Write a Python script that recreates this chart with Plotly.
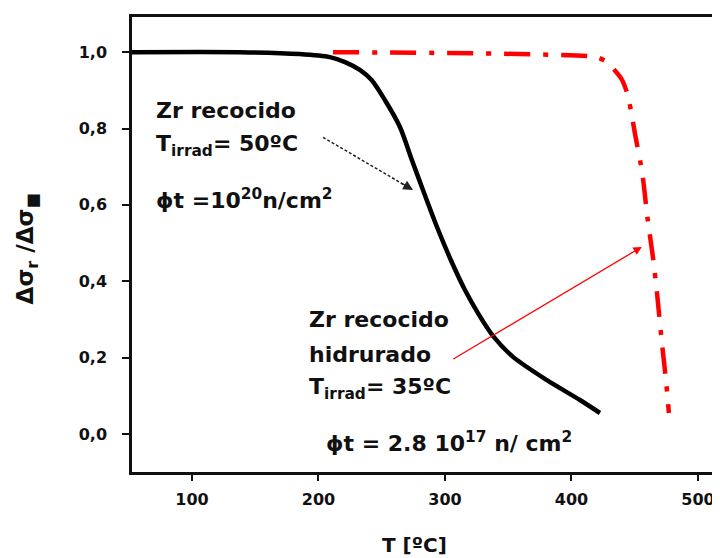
import plotly.graph_objects as go

# Black curve: Zr recocido, T_irrad = 50ºC
t_black = [52.6, 138, 185, 209, 221, 233, 242, 252.6, 264.4, 273.9, 282.6, 293.7,
           304.7, 315.8, 326.9, 337.9, 353.8, 380.6, 406.7, 422.5]
y_black = [1.0, 1.0, 0.995, 0.987, 0.974, 0.953, 0.927, 0.874, 0.804, 0.717, 0.639, 0.542,
           0.455, 0.377, 0.312, 0.257, 0.202, 0.141, 0.089, 0.055]

# Red curve: Zr recocido hidrurado, T_irrad = 35ºC
t_red = [211.5, 420, 428, 434, 440, 444, 447, 450, 456, 460, 464.4, 467.6, 471.5, 474.7, 477]
y_red = [1.0, 0.987, 0.974, 0.953, 0.927, 0.893, 0.848, 0.79, 0.683, 0.568, 0.463, 0.369,
         0.238, 0.141, 0.055]

# arrow tails / heads (data units)
arrow_black = dict(tail=(203.6, 0.777), head=(274.7, 0.639))
arrow_red = dict(tail=(305.5, 0.194), head=(455.6, 0.490))

x_ticks = [100, 200, 300, 400, 500]
y_ticks = [0.0, 0.2, 0.4, 0.6, 0.8, 1.0]

FONT = "DejaVu Sans"
TXT = dict(family=FONT, size=22, color="#111111", weight="bold")

fig = go.Figure()
fig.add_trace(go.Scatter(x=t_black, y=y_black, mode="lines",
                         line=dict(color="black", width=4.5, shape="spline", smoothing=0.8),
                         showlegend=False))
fig.add_trace(go.Scatter(x=t_red, y=y_red, mode="lines",
                         line=dict(color="#ff0000", width=4.5, dash="26px,13px,5px,13px",
                                   shape="spline", smoothing=0.5),
                         showlegend=False))
# black arrow shaft (dotted)
fig.add_trace(go.Scatter(x=[arrow_black["tail"][0], arrow_black["head"][0]],
                         y=[arrow_black["tail"][1], arrow_black["head"][1]],
                         mode="lines", line=dict(color="#222222", width=1.5, dash="3px,2px"),
                         showlegend=False))

ann = []
def txt(x, y, s):
    ann.append(dict(x=x, y=y, xref="x", yref="y", text=s, showarrow=False,
                    xanchor="left", yanchor="middle", font=TXT))

txt(70.0, 0.848, "Zr recocido")
txt(70.0, 0.755, "T<sub>irrad</sub>= 50ºC")
txt(70.0, 0.616, "ɸt =10<sup>20</sup>n/cm<sup>2</sup>")
txt(191.0, 0.301, "Zr recocido")
txt(191.0, 0.209, "hidrurado")
txt(191.0, 0.118, "T<sub>irrad</sub>= 35ºC")
txt(204.0, -0.020, "ɸt = 2.8 10<sup>17</sup> n/ cm<sup>2</sup>")

# arrowheads
hx, hy = arrow_black["head"]
tx, ty = arrow_black["tail"]
ann.append(dict(x=hx, y=hy, ax=hx - (hx - tx) * 0.15, ay=hy - (hy - ty) * 0.15,
                xref="x", yref="y", axref="x", ayref="y", showarrow=True,
                arrowhead=2, arrowsize=1.3, arrowwidth=1.5, arrowcolor="#222222", text=""))
hx, hy = arrow_red["head"]
tx, ty = arrow_red["tail"]
ann.append(dict(x=hx, y=hy, ax=tx, ay=ty, xref="x", yref="y",
                axref="x", ayref="y", showarrow=True, arrowhead=2, arrowsize=1.3,
                arrowwidth=1.3, arrowcolor="#ff0000", text=""))

# axis titles
ann.append(dict(x=0.481, y=-0.160, xref="paper", yref="paper", text="T [ºC]",
                showarrow=False, xanchor="center", yanchor="middle",
                font=dict(family=FONT, size=20, color="#111111", weight="bold")))
ann.append(dict(x=-0.178, y=0.49, xref="paper", yref="paper",
                text="Δσ<sub>r</sub> /Δσ<sub>■</sub>", textangle=-90,
                showarrow=False, xanchor="center", yanchor="middle",
                font=dict(family=FONT, size=23, color="#111111", weight="bold")))

# the page body adds an 8px offset, so the figure is sized to fit the window
fig.update_layout(
    width=712, height=550,
    margin=dict(l=124, r=0, t=9, b=86),
    plot_bgcolor="white", paper_bgcolor="white",
    separators=",.",
    annotations=ann,
    showlegend=False,
)
fig.update_xaxes(range=[52.6, 517.4], tickvals=x_ticks, showgrid=False, zeroline=False,
                 showline=True, linecolor="#111111", linewidth=2.5, mirror=True,
                 ticks="outside", ticklen=6, tickwidth=2, tickcolor="#111111",
                 ticklabelstandoff=5,
                 tickfont=dict(family=FONT, size=16, color="#111111", weight="bold"))
fig.update_yaxes(range=[-0.0995, 1.092], tickvals=y_ticks, tickformat=".1f",
                 showgrid=False, zeroline=False,
                 showline=True, linecolor="#111111", linewidth=2.5, mirror=False,
                 ticks="outside", ticklen=7, tickwidth=2, tickcolor="#111111",
                 ticklabelstandoff=12,
                 tickfont=dict(family=FONT, size=16, color="#111111", weight="bold"))

fig.write_html("out.html")
